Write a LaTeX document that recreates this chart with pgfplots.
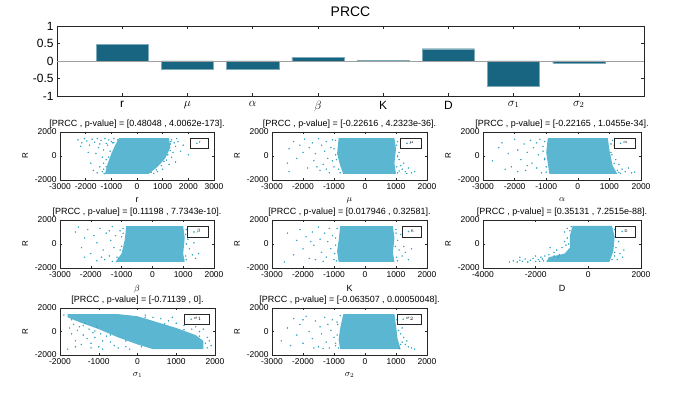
\documentclass[border=0pt]{standalone}
\usepackage{fontspec}
\setmainfont{Liberation Sans}
\usepackage{pgfplots}
\pgfplotsset{compat=1.18}
\definecolor{barcol}{RGB}{23,101,128}
\definecolor{sccol}{RGB}{45,163,196}
\definecolor{axcol}{RGB}{38,38,38}
\newcommand{\fs}[1]{\fontsize{#1}{#1}\selectfont}
\pgfplotsset{
 every axis/.append style={
   /pgf/number format/assume math mode=true,
   /pgf/number format/1000 sep={},
   axis line style={axcol, line width=0.5pt},
   every tick/.style={axcol, line width=0.5pt}},
 sc/.style={scale only axis, height=48bp, ymin=-2000, ymax=2000,
   ytick={-2000,0,2000}, ylabel={R},
   ylabel style={font=\fs{8}},
   tick label style={font=\fs{8.5}},
   title style={font=\fs{9}, yshift=-5.5pt},
   xlabel style={font=\fs{9}, yshift=-1pt},
   major tick length=2bp,
   legend style={at={(0.967,0.875)}, anchor=north east, font=\fs{4},
     draw=axcol, line width=0.5pt, inner xsep=6pt, inner ysep=1.2pt,
     row sep=-1pt},
   legend image code/.code={\draw[mark repeat=2,mark phase=2,#1] plot coordinates {(0cm,0cm)(0.25cm,0cm)(0.5cm,0cm)};}},
 cloud/.style={fill=sccol!78!white, draw=none, forget plot},
 pts/.style={only marks, mark=*, mark size=0.5pt, color=sccol, mark options={draw=none, fill=sccol}},
}
\begin{document}
\begin{tikzpicture}
\useasboundingbox (0,0) rectangle (675bp,395bp);
% ---------- PRCC bar chart
\begin{axis}[at={(57bp,299bp)}, anchor=south west, scale only axis,
  width=587bp, height=70bp, xmin=0, xmax=9, ymin=-1, ymax=1,
  xtick={1,...,8}, xticklabels={r,$\mu$,$\alpha$,$\beta$,K,D,$\sigma_{1}$,$\sigma_{2}$},
  ytick={-1,-0.5,0,0.5,1},
  tick label style={font=\fs{12}},
  xticklabel style={yshift=-1.5pt},
  major tick length=3bp,
  title={PRCC}, title style={font=\fs{14}, yshift=0bp}]
\addplot[ybar, bar width=0.8, fill=barcol, draw=barcol!55!white, line width=0.3pt]
  coordinates {(1,0.48048)(2,-0.22616)(3,-0.22165)(4,0.11198)(5,0.017946)(6,0.35131)(7,-0.71139)(8,-0.063507)};
\addplot[gray!75, line width=0.6pt, forget plot] coordinates {(0,0)(9,0)};
\end{axis}
% ---------- r
\begin{axis}[sc, at={(60bp,215bp)}, anchor=south west, width=154bp,
  xmin=-3000, xmax=3000, xtick={-3000,-2000,...,3000},
  title={\mbox{[PRCC , p-value] = [0.48048 , 4.0062e-173].}}, xlabel={r}]
\addplot[cloud] coordinates {(-700,1480)(1250,1480)(1300,700)(1100,-200)(800,-900)(450,-1500)(-1250,-1500)(-1150,-700)(-1000,200)(-850,900)} -- cycle;
\addplot[pts] coordinates {(-2300,1350)(-2150,1100)(-2050,1450)(-1950,1250)(-1850,900)(-1750,1400)(-1650,1150)(-1550,1450)(-1500,700)(-1450,1000)(-1400,1300)(-1300,500)(-1250,1450)(-1200,1050)(-1100,1350)(-1000,1200)(-900,1450)(-1350,-100)(-1600,200)(-1800,-600)(-1450,-900)(-1550,-1400)(-1350,-1300)(-1300,-600)(-1900,300)(-2200,800)(-1150,900)(-950,1100)(1350,1350)(1450,1100)(1500,800)(1600,1200)(1700,400)(1400,300)(1350,-100)(1500,-500)(1250,-700)(1000,-1100)(800,-1300)(1800,900)(2000,100)(1200,100)(1150,-350)(950,-800)(650,-1450)(1300,1000)(1550,1450)(-1700,-1200)(-1300,-1100)(-1200,-300)(-1050,400)(-900,1100)(-750,1350)(1320,1200)(1300,450)(1050,-450)(750,-1150)(550,-1350)(-1280,-1480)(-1200,-900)(-1100,-100)};
\addlegendentry{r}
\end{axis}
% ---------- mu
\begin{axis}[sc, at={(272bp,215bp)}, anchor=south west, width=155bp,
  xmin=-3000, xmax=2000, xtick={-3000,-2000,...,2000},
  title={\mbox{[PRCC , p-value] = [-0.22616 , 4.2323e-36].}}, xlabel={$\mu$}]
\addplot[cloud] coordinates {(-850,1480)(950,1480)(1000,600)(950,-600)(1000,-1500)(-700,-1500)(-800,-800)(-900,200)} -- cycle;
\addplot[pts] coordinates {(-2500,-600)(-2450,600)(-2300,1200)(-2200,-200)(-2100,900)(-2000,300)(-1950,1400)(-1850,-1000)(-1800,700)(-1700,1100)(-1650,-400)(-1600,200)(-1500,1450)(-1450,-1200)(-1400,900)(-1350,-700)(-1300,400)(-1250,1200)(-1200,-200)(-1150,-1400)(-1100,700)(-1050,1350)(-1000,-900)(-950,100)(-1050,-400)(-1250,-1100)(-1550,-900)(-2450,-1300)(1050,1200)(1100,-300)(1150,-800)(1200,-1100)(1300,-1300)(1400,-1000)(1500,-1400)(1600,-1300)(1100,300)(1050,-1400)(1250,-600)(1350,-1450)(1200,800)(1050,-50)(-950,1300)(-1000,600)(-920,-300)(-850,-1100)(-800,-1400)(1020,900)(1050,0)(1020,-900)(1100,-1250)};
\addlegendentry{$\mu$}
\end{axis}
% ---------- alpha
\begin{axis}[sc, at={(483bp,215bp)}, anchor=south west, width=158bp,
  xmin=-3000, xmax=2000, xtick={-3000,-2000,...,2000},
  title={\mbox{[PRCC , p-value] = [-0.22165 , 1.0455e-34].}}, xlabel={$\alpha$}]
\addplot[cloud] coordinates {(-950,1480)(950,1480)(1000,500)(1100,-800)(1250,-1500)(-900,-1500)(-950,-600)(-1000,300)} -- cycle;
\addplot[pts] coordinates {(-2700,-400)(-2500,700)(-2400,1100)(-2200,200)(-2100,-900)(-2000,1400)(-1900,500)(-1800,-300)(-1700,1000)(-1650,-1200)(-1600,300)(-1500,1300)(-1450,-600)(-1400,700)(-1300,-1000)(-1250,100)(-1200,1400)(-1150,-1400)(-1100,800)(-1050,-300)(-1300,1100)(-1600,-800)(-2300,-1100)(-1900,-1300)(1100,1300)(1050,300)(1200,-300)(1300,-700)(1400,-1100)(1500,-1300)(1600,-1000)(1700,-1400)(1800,-1350)(1350,-1450)(1150,900)(1250,-1200)(-1050,1200)(-1100,400)(-1050,-200)(-1000,-900)(-1000,-1350)(1050,1000)(1080,100)(1150,-600)(1300,-1350)};
\addlegendentry{$\alpha$}
\end{axis}
% ---------- beta
\begin{axis}[sc, at={(60bp,127bp)}, anchor=south west, width=154bp,
  xmin=-3000, xmax=2000, xtick={-3000,-2000,...,2000},
  title={\mbox{[PRCC , p-value] = [0.11198 , 7.7343e-10].}}, xlabel={$\beta$}]
\addplot[cloud] coordinates {(-850,1480)(1000,1480)(1050,500)(1000,-800)(1050,-1500)(-1200,-1500)(-1000,-800)(-900,300)} -- cycle;
\addplot[pts] coordinates {(-2500,1000)(-2400,1400)(-2300,-300)(-2200,500)(-2100,1200)(-2000,-800)(-1900,700)(-1800,100)(-1700,1300)(-1600,-500)(-1550,-1300)(-1500,900)(-1400,-1000)(-1350,300)(-1300,1450)(-1250,-300)(-1200,700)(-1100,-1200)(-1050,1100)(-1000,-200)(-950,900)(-1400,1100)(-1650,-1100)(-2200,-1100)(-1800,-1400)(1100,1200)(1150,400)(1200,-400)(1300,-900)(1400,-1200)(1500,-800)(1350,100)(1100,-1300)(1250,900)(1450,600)(-950,1300)(-1000,600)(-1050,-500)(-1150,-1100)(-1300,-1450)(1080,800)(1100,0)(1080,-1000)};
\addlegendentry{$\beta$}
\end{axis}
% ---------- K
\begin{axis}[sc, at={(272bp,127bp)}, anchor=south west, width=155bp,
  xmin=-3000, xmax=2000, xtick={-3000,-2000,...,2000},
  title={\mbox{[PRCC , p-value] = [0.017946 , 0.32581].}}, xlabel={K}]
\addplot[cloud] coordinates {(-800,1480)(900,1480)(950,500)(900,-700)(950,-1500)(-850,-1500)(-900,-600)(-850,300)} -- cycle;
\addplot[pts] coordinates {(-2600,-1500)(-2500,900)(-2300,-900)(-2200,300)(-2100,1200)(-2000,-400)(-1900,600)(-1800,-1200)(-1700,1000)(-1650,-100)(-1600,-1300)(-1500,1400)(-1450,400)(-1400,-700)(-1300,900)(-1250,-1100)(-1200,200)(-1150,1300)(-1100,-400)(-1050,700)(-1000,-1300)(-950,-100)(-1350,-1450)(-1750,200)(1000,1200)(1050,300)(1100,-500)(1200,-1000)(1300,-700)(1400,-1300)(1500,-400)(1150,800)(1050,-1400)(1250,-200)(-900,1300)(-950,500)(-980,-800)(-920,-1400)(1000,900)(980,-200)(1020,-1100)};
\addlegendentry{K}
\end{axis}
% ---------- D
\begin{axis}[sc, at={(483bp,127bp)}, anchor=south west, width=158bp,
  xmin=-4000, xmax=2000, xtick={-4000,-2000,0,2000},
  title={\mbox{[PRCC , p-value] = [0.35131 , 7.2515e-88].}}, xlabel={D}]
\addplot[cloud] coordinates {(-600,1500)(900,1500)(1000,600)(950,-600)(800,-1500)(-1600,-1500)(-1500,-1100)(-900,-800)(-700,-300)(-700,700)} -- cycle;
\addplot[pts] coordinates {(-3000,-1500)(-2850,-1400)(-2700,-1500)(-2600,-1350)(-2500,-1450)(-2400,-1250)(-2300,-1500)(-2200,-1350)(-2100,-1200)(-2000,-1450)(-1900,-1300)(-1800,-1100)(-1700,-1400)(-1650,-1000)(-1500,-900)(-1300,-700)(-1200,-500)(-1100,-900)(-1000,-300)(-900,200)(-850,-100)(-800,500)(-900,1000)(-800,1300)(-1300,-1000)(-2000,-1000)(1000,1200)(1100,700)(1150,200)(1050,-300)(1200,-800)(1300,-1100)(1100,-1300)(1350,-500)(1000,-1000)(-2600,-1100)(-1450,-300)(-1750,-1250)(-1850,-1450)(-1150,-1100)(-750,0)(-700,1100)(-650,1450)(1050,1000)(1000,-700)(900,-1300)};
\addlegendentry{D}
\end{axis}
% ---------- sigma1
\begin{axis}[sc, at={(60bp,40bp)}, anchor=south west, width=155bp, height=47bp,
  xmin=-2000, xmax=2000, xtick={-2000,-1000,...,2000},
  title={\mbox{[PRCC , p-value] = [-0.71139 , 0].}}, xlabel={$\sigma_{1}$}]
\addplot[cloud] coordinates {(-1800,1480)(-500,1480)(0,1300)(500,800)(1000,300)(1500,-300)(1700,-800)(1700,-1500)(400,-1500)(0,-1100)(-500,-500)(-1000,200)(-1500,800)(-1800,1200)} -- cycle;
\addplot[pts] coordinates {(-1900,1400)(-1800,-1500)(-1750,300)(-1700,-200)(-1650,600)(-1600,-800)(-1550,100)(-1500,400)(-1450,-1100)(-1400,-300)(-1350,700)(-1300,-600)(-1250,200)(-1200,-1000)(-1150,-100)(-1100,-500)(-1050,400)(-1000,-1300)(-950,-200)(-900,-800)(-800,-400)(-700,-900)(-600,-1200)(-500,-1400)(-300,-1300)(-200,-1500)(-1200,-1400)(-1600,-1300)(-900,-1500)(200,1400)(400,1200)(600,1100)(800,900)(1000,700)(1200,500)(1400,200)(1600,0)(1800,-500)(1900,-1200)(1850,-800)(1300,800)(900,1200)(1500,400)(1700,200)(1800,-1400)(-1700,1000)(-1400,500)(-1100,50)(-700,-300)(-300,-800)(100,-1300)(200,1200)(700,650)(1200,150)(1600,-400)(1750,-1000)};
\addlegendentry{$\sigma_{1}$}
\end{axis}
% ---------- sigma2
\begin{axis}[sc, at={(272bp,40bp)}, anchor=south west, width=155bp, height=47bp,
  xmin=-3000, xmax=2000, xtick={-3000,-2000,...,2000},
  title={\mbox{[PRCC , p-value] = [-0.063507 , 0.00050048].}}, xlabel={$\sigma_{2}$}]
\addplot[cloud] coordinates {(-700,1480)(950,1480)(1000,500)(1050,-600)(1150,-1500)(-800,-1500)(-850,-700)(-800,300)} -- cycle;
\addplot[pts] coordinates {(-2700,-800)(-2500,300)(-2400,-1200)(-2300,1100)(-2200,-300)(-2100,600)(-2000,-1000)(-1900,1300)(-1800,0)(-1700,-600)(-1600,900)(-1500,-1300)(-1450,400)(-1400,-200)(-1300,1200)(-1250,-900)(-1200,600)(-1150,-1400)(-1100,100)(-1050,1000)(-1000,-500)(-950,-1200)(-900,800)(-1350,-1450)(-1650,-1400)(-2000,1000)(1050,1300)(1100,700)(1150,-200)(1200,-900)(1300,-1100)(1400,-1300)(1500,-1400)(1600,-1500)(1250,-500)(1350,-800)(1100,-1450)(1200,300)(-800,1350)(-880,600)(-900,-300)(-950,-1000)(-850,-1400)(1030,1000)(1080,100)(1150,-1100)};
\addlegendentry{$\sigma_{2}$}
\end{axis}
\end{tikzpicture}
\end{document}
